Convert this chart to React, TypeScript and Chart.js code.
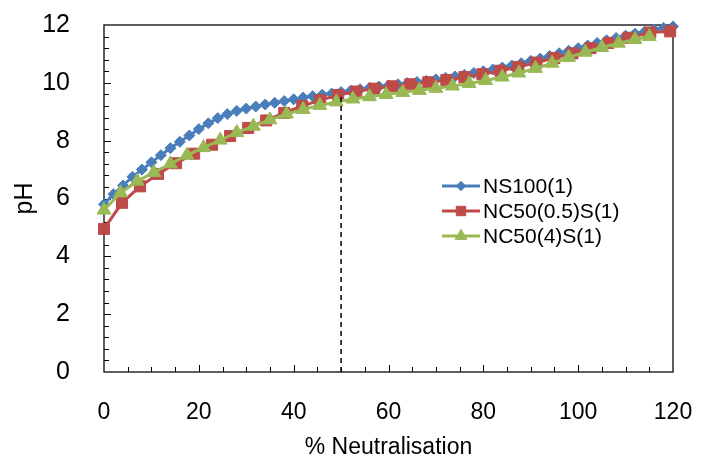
import React, { useEffect, useRef } from 'react';
import { Chart, registerables } from 'chart.js';
import { drawPoint } from 'chart.js/helpers';

Chart.register(...registerables);

const FONT = "'Liberation Sans', Arial, sans-serif";

// ---- data ----
const seriesNames = ['NS100(1)', 'NC50(0.5)S(1)', 'NC50(4)S(1)'];

const ns100X = [0, 2, 4, 6, 8, 10, 12, 14, 16, 18, 20, 22, 24, 26, 28, 30, 32, 34, 36, 38, 40, 42, 44, 46, 48, 50, 52, 54, 56, 58, 60, 62, 64, 66, 68, 70, 72, 74, 76, 78, 80, 82, 84, 86, 88, 90, 92, 94, 96, 98, 100, 102, 104, 106, 108, 110, 112, 114, 116, 118, 120];
const ns100Y = [5.8, 6.15, 6.45, 6.75, 7.0, 7.25, 7.5, 7.74, 7.96, 8.18, 8.4, 8.6, 8.78, 8.92, 9.03, 9.11, 9.18, 9.25, 9.31, 9.37, 9.43, 9.49, 9.54, 9.59, 9.63, 9.68, 9.73, 9.78, 9.83, 9.87, 9.91, 9.95, 9.99, 10.03, 10.07, 10.12, 10.17, 10.22, 10.28, 10.34, 10.4, 10.46, 10.53, 10.6, 10.68, 10.76, 10.84, 10.93, 11.02, 11.11, 11.2, 11.29, 11.38, 11.47, 11.55, 11.63, 11.7, 11.77, 11.84, 11.9, 11.95];

const nc05X = [0, 3.8, 7.6, 11.4, 15.2, 19, 22.8, 26.6, 30.4, 34.2, 38, 41.8, 45.6, 49.4, 53.2, 57, 60.8, 64.6, 68.4, 72.2, 76, 79.8, 83.6, 87.4, 91.2, 95, 98.8, 102.6, 106.4, 110.6, 115.2, 119.4];
const nc05Y = [4.95, 5.85, 6.42, 6.85, 7.22, 7.55, 7.86, 8.16, 8.44, 8.7, 8.96, 9.2, 9.4, 9.58, 9.7, 9.8, 9.88, 9.95, 10.02, 10.1, 10.2, 10.3, 10.42, 10.55, 10.7, 10.86, 11.02, 11.2, 11.38, 11.56, 11.74, 11.78];

const nc4X = [0, 3.5, 7, 10.5, 14, 17.5, 21, 24.5, 28, 31.5, 35, 38.5, 42, 45.5, 49, 52.5, 56, 59.5, 63, 66.5, 70, 73.5, 77, 80.5, 84, 87.5, 91, 94.5, 98, 101.5, 105, 108.5, 112, 115];
const nc4Y = [5.6, 6.2, 6.6, 6.9, 7.2, 7.5, 7.76, 8.02, 8.28, 8.5, 8.72, 8.92, 9.08, 9.22, 9.34, 9.44, 9.52, 9.6, 9.67, 9.74, 9.81, 9.89, 9.98, 10.08, 10.2, 10.34, 10.5, 10.68, 10.88, 11.06, 11.22, 11.37, 11.5, 11.6];

const markerX = [50, 50];
const markerY = [0, 9.65];

const xTicks = [0, 20, 40, 60, 80, 100, 120];
const yTicks = [0, 2, 4, 6, 8, 10, 12];
const xMinorStep = 5;
const yMinorStep = 0.4;

const xTitle = '% Neutralisation';
const yTitle = 'pH';

const colors = ['#4A7EBB', '#BE4B48', '#98B954'];
const styles = ['rectRot', 'rect', 'triangle'];
const radii = [5.5, 7.8, 8];

const zip = (xs: number[], ys: number[]) => xs.map((x, i) => ({ x, y: ys[i] }));

const framePlugin = {
  id: 'frame',
  beforeDatasetsDraw(chart: any) {
    const { ctx, chartArea: a, scales } = chart;
    const xs = scales.x;
    const ys = scales.y;
    ctx.save();
    ctx.strokeStyle = '#000';
    ctx.lineWidth = 1;
    ctx.beginPath();
    const nx = Math.round((xTicks[xTicks.length - 1] - xTicks[0]) / xMinorStep);
    for (let i = 1; i < nx; i++) {
      const px = Math.round(xs.getPixelForValue(xTicks[0] + i * xMinorStep)) + 0.5;
      const len = (i * xMinorStep) % 20 === 0 ? 7 : 5;
      ctx.moveTo(px, a.bottom);
      ctx.lineTo(px, a.bottom - len);
    }
    const ny = Math.round((yTicks[yTicks.length - 1] - yTicks[0]) / yMinorStep);
    for (let i = 1; i < ny; i++) {
      const py = Math.round(ys.getPixelForValue(yTicks[0] + i * yMinorStep)) + 0.5;
      const len = i % 5 === 0 ? 7 : 5;
      ctx.moveTo(a.left, py);
      ctx.lineTo(a.left + len, py);
    }
    ctx.stroke();
    ctx.lineWidth = 1.4;
    ctx.strokeStyle = '#1a1a1a';
    ctx.strokeRect(a.left, a.top, a.right - a.left, a.bottom - a.top);
    ctx.restore();
  },
};

const legendPlugin = {
  id: 'customLegend',
  afterDraw(chart: any) {
    const { ctx } = chart;
    const rows = [186, 211, 236];
    ctx.save();
    for (let i = 0; i < 3; i++) {
      const y = rows[i];
      ctx.strokeStyle = colors[i];
      ctx.lineWidth = 3;
      ctx.beginPath();
      ctx.moveTo(442, y);
      ctx.lineTo(480, y);
      ctx.stroke();
      ctx.fillStyle = colors[i];
      ctx.strokeStyle = colors[i];
      ctx.lineWidth = 1;
      drawPoint(ctx, { pointStyle: styles[i], radius: radii[i] * 0.85, rotation: 0, borderWidth: 1 } as any, 461, y);
      ctx.fillStyle = '#000';
      ctx.font = `21px ${FONT}`;
      ctx.textBaseline = 'middle';
      ctx.textAlign = 'left';
      ctx.fillText(seriesNames[i], 483, y + 1);
    }
    ctx.restore();
  },
};

export default function App() {
  const ref = useRef<HTMLCanvasElement>(null);
  useEffect(() => {
    if (!ref.current) return;
    const mk = (i: number, xs: number[], ys: number[], order: number) => ({
      label: seriesNames[i],
      data: zip(xs, ys),
      borderColor: colors[i],
      backgroundColor: colors[i],
      pointBackgroundColor: colors[i],
      pointBorderColor: colors[i],
      pointStyle: styles[i],
      pointRadius: radii[i],
      pointBorderWidth: 1,
      borderWidth: 3,
      tension: 0,
      clip: false,
      order,
    });
    const chart = new Chart(ref.current, {
      type: 'line',
      data: {
        datasets: [
          {
            label: 'marker',
            data: zip(markerX, markerY),
            borderColor: '#000',
            borderWidth: 1.5,
            borderDash: [5, 4],
            pointRadius: 0,
            tension: 0,
            order: 0,
          } as any,
          mk(2, nc4X, nc4Y, 1),
          mk(1, nc05X, nc05Y, 2),
          mk(0, ns100X, ns100Y, 3),
        ],
      },
      options: {
        animation: false,
        responsive: false,
        devicePixelRatio: 1,
        layout: { padding: { left: 0, top: 25, right: 30, bottom: 0 } },
        plugins: { legend: { display: false }, tooltip: { enabled: false } },
        scales: {
          x: {
            type: 'linear',
            min: xTicks[0],
            max: xTicks[xTicks.length - 1],
            afterBuildTicks: (s: any) => { s.ticks = xTicks.map((v) => ({ value: v })); },
            afterFit: (s: any) => { s.height = 91; s.paddingLeft = 0; s.paddingRight = 0; },
            grid: { display: false },
            border: { display: false },
            ticks: { color: '#000', font: { family: FONT, size: 23 }, padding: 19, maxRotation: 0 },
            title: { display: true, text: xTitle, color: '#000', font: { family: FONT, size: 23 }, padding: { top: 0, bottom: 2 } },
          },
          y: {
            type: 'linear',
            min: yTicks[0],
            max: yTicks[yTicks.length - 1],
            afterBuildTicks: (s: any) => { s.ticks = yTicks.map((v) => ({ value: v })); },
            afterFit: (s: any) => { s.width = 104; s.paddingTop = 0; s.paddingBottom = 0; },
            grid: { display: false },
            border: { display: false },
            ticks: { color: '#000', font: { family: FONT, size: 25 }, padding: 26 },
            title: { display: true, text: yTitle, color: '#000', font: { family: FONT, size: 25 }, padding: { top: 10, bottom: 0 } },
          },
        },
      },
      plugins: [framePlugin, legendPlugin],
    });
    return () => chart.destroy();
  }, []);
  return (
    <div style={{ position: 'fixed', left: 0, top: 0, width: 703, height: 463, background: '#fff' }}>
      <canvas ref={ref} width={703} height={463} style={{ display: 'block' }} />
    </div>
  );
}
